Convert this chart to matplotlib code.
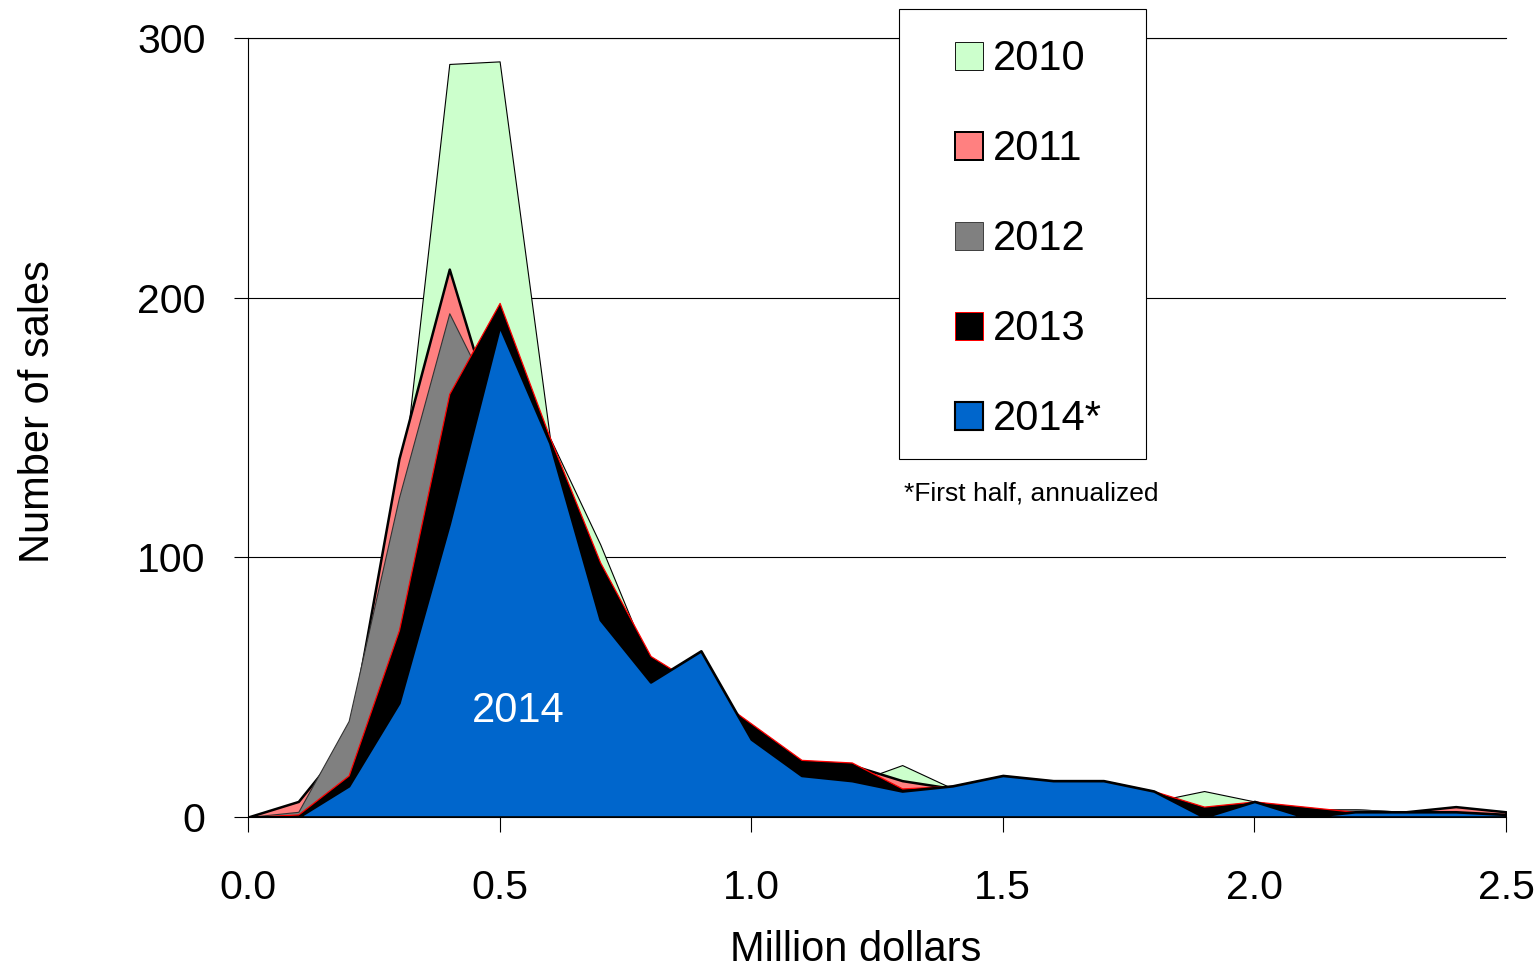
import matplotlib
matplotlib.use("Agg")
import matplotlib.pyplot as plt
from matplotlib.patches import Patch, Rectangle

plt.rcParams["font.family"] = ["Liberation Sans", "DejaVu Sans"]

# Sale price buckets (million dollars)
price = [0.0, 0.1, 0.2, 0.3, 0.4, 0.5, 0.6, 0.7, 0.8, 0.9, 1.0, 1.1, 1.2,
         1.3, 1.4, 1.5, 1.6, 1.7, 1.8, 1.9, 2.0, 2.1, 2.2, 2.3, 2.4, 2.5]

# Number of sales per bucket, by year
sales_2010 = [0, 2, 20, 118, 290, 291, 146, 105, 58, 52, 34, 21, 13,
              20, 11, 12, 10, 10, 6, 10, 6, 3, 3, 2, 3, 2]
sales_2011 = [0, 6, 30, 138, 211, 147, 140, 96, 60, 48, 35, 21, 20,
              14, 11, 14, 12, 12, 8, 3, 5, 3, 2, 2, 4, 2]
sales_2012 = [0, 2, 37, 123, 194, 155, 140, 95, 58, 50, 33, 20, 18,
              9, 10, 14, 12, 12, 8, 3, 5, 3, 3, 2, 2, 1]
sales_2013 = [0, 1, 16, 72, 163, 198, 146, 98, 62, 50, 36, 22, 21,
              11, 12, 16, 14, 14, 10, 4, 6, 4, 2, 2, 2, 1]
sales_2014 = [0, 0, 12, 44, 113, 189, 144, 76, 52, 64, 30, 16, 14,
              10, 12, 16, 14, 14, 10, 0, 6, 0, 2, 2, 2, 1]

year_labels = ["2010", "2011", "2012", "2013", "2014*"]
x_ticks = [0.0, 0.5, 1.0, 1.5, 2.0, 2.5]
y_ticks = [0, 100, 200, 300]

series = [sales_2010, sales_2011, sales_2012, sales_2013, sales_2014]
fills = ["#CCFFCC", "#FF8080", "#808080", "#000000", "#0066CC"]
edges = ["#000000", "#000000", "#333333", "#FF0000", "#000000"]
widths = [0.8, 1.8, 0.8, 0.9, 1.9]

W, H = 1539, 972
fig = plt.figure(figsize=(W / 100, H / 100), dpi=100)
ax = fig.add_axes([248 / W, 1 - 817 / H, (1506 - 248) / W, (817 - 38) / H])

for i, (vals, fc, ec, lw) in enumerate(zip(series, fills, edges, widths)):
    ax.fill_between(price, 0, vals, facecolor=fc, edgecolor=ec,
                    linewidth=lw, zorder=2 + i * 0.1)

ax.text(0.537, 40.8, "2014", color="white", fontsize=30,
        ha="center", va="center", zorder=3)

ax.set_xlim(0, 2.5)
ax.set_ylim(0, 300)
ax.set_xticks(x_ticks)
ax.set_xticklabels([f"{t:.1f}" for t in x_ticks])
ax.set_yticks(y_ticks)
ax.yaxis.grid(True, color="black", linewidth=0.8, zorder=1)
ax.set_axisbelow(True)

ax.spines["right"].set_visible(False)
for side in ["left", "bottom", "top"]:
    ax.spines[side].set_color("black")
    ax.spines[side].set_linewidth(0.8)

ax.tick_params(axis="y", direction="out", length=10, width=0.8,
               pad=20.5, labelsize=29.5)
ax.tick_params(axis="x", direction="out", length=10.5, width=0.8,
               pad=27, labelsize=29.5)

ax.set_xlabel("Million dollars", fontsize=30, va="center")
ax.xaxis.set_label_coords(0.483, -0.1707)
ax.set_ylabel("Number of sales", fontsize=30, va="center")
ax.yaxis.set_label_coords(-0.167, 0.5205)

# Legend box
box = Rectangle((899 / W, 1 - 459 / H), (1146 - 899) / W, (459 - 9) / H,
                transform=fig.transFigure, facecolor="white",
                edgecolor="black", linewidth=0.8, clip_on=False, zorder=4.5)
ax.add_patch(box)

handles = [Patch(facecolor=fc, edgecolor=ec, linewidth=lw * 0.8)
           for fc, ec, lw in zip(fills, edges, widths)]
leg = ax.legend(handles, year_labels, loc="center",
                bbox_to_anchor=(1028 / W, 1 - 239.5 / H),
                bbox_transform=fig.transFigure, frameon=False, fontsize=30,
                handlelength=0.67, handleheight=0.656, handletextpad=0.24,
                labelspacing=1.2, borderpad=0)
leg.set_zorder(6)

fig.text(904 / W, 1 - 493 / H, "*First half, annualized", fontsize=19,
         ha="left", va="center")

fig.savefig("out.png", dpi=100)
